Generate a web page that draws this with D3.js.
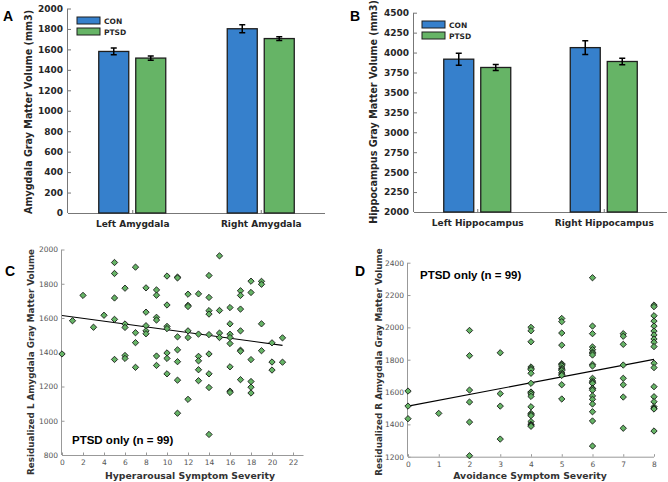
<!DOCTYPE html>
<html><head><meta charset="utf-8">
<script src="https://cdn.jsdelivr.net/npm/d3@7/dist/d3.min.js"></script>
<style>body{margin:0;background:#fff}svg{display:block}</style>
</head><body>
<svg id="c" width="668" height="482"></svg>
<script>
// ---------- DATA ----------
const groups = ["CON", "PTSD"];
const catsA = ["Left Amygdala", "Right Amygdala"];
const conA = [1580, 1802];
const conAErr = [33, 40];
const ptsdA = [1515, 1706];
const ptsdAErr = [20, 18];
const ticksA = [0, 200, 400, 600, 800, 1000, 1200, 1400, 1600, 1800, 2000];

const catsB = ["Left Hippocampus", "Right Hippocampus"];
const conB = [3917, 4062];
const conBErr = [75, 85];
const ptsdB = [3813, 3888];
const ptsdBErr = [38, 40];
const ticksB = [2000, 2250, 2500, 2750, 3000, 3250, 3500, 3750, 4000, 4250, 4500];

const hyperX = [0,1,2,3,4,
 5,5,5,5,5, 6,6,6,6,6, 7,7,7,7, 8,8,8,8,8, 9,9,9,9,9,9,
 10,10,10,10,10,10,10, 11,11,11,11,11,11,11, 12,12,12,12,12,12,
 13,13,13,13,13,13, 14,14,14,14,14,14,14,14,14, 15,15,15,15,
 16,16,16,16,16,16,16,16, 17,17,17,17,17,17,17, 18,18,18,18,18,18,
 19,19,19,19, 20,20,20, 21,21];
const leftAmyg = [1390,1584,1732,1546,1616,
 1924,1860,1717,1592,1358, 1774,1565,1545,1381,1364, 1897,1514,1456,1312,
 1776,1634,1555,1525,1508, 1764,1733,1604,1588,1378,1323,
 1845,1676,1551,1538,1396,1364,1274, 1839,1834,1490,1414,1345,1237,1044,
 1739,1674,1667,1525,1486,1125, 1741,1506,1376,1350,1298,1234,
 1848,1720,1643,1623,1503,1390,1274,1194,920, 1963,1644,1512,1486,
 1661,1566,1505,1486,1451,1315,1173,1165, 1759,1732,1652,1525,1412,1406,1240,
 1815,1749,1357,1229,1196,1162, 1814,1797,1566,1409, 1455,1343,1296, 1484,1342];
const fitC = [[0, 1615], [21, 1440]];
const ticksCx = [0,2,4,6,8,10,12,14,16,18,20,22];
const ticksCy = [800,1000,1200,1400,1600,1800,2000];

const avoidX = [0,0,0, 1, 2,2,2,2,2,2, 3,3,3,3,
 4,4,4,4,4,4,4,4,4,4,4,4,4,4,4,4,4,4,4,4,
 5,5,5,5,5,5,5,5,5,5,5,5,5,5,5,
 6,6,6,6,6,6,6,6,6,6,6,6,6,6,6,6,6,6,6,6,6,6,6,
 7,7,7,7,7,7,7,7,
 8,8,8,8,8,8,8,8,8,8,8,8,8,8,8,8,8,8,8];
const rightAmyg = [1606,1513,1435, 1468, 1981,1825,1612,1538,1414,1206, 1843,1590,1513,1309,
 2000,1979,1911,1755,1745,1738,1716,1654,1600,1598,1588,1573,1509,1468,1460,1454,1417,1400,1395,1388,
 2055,2035,1965,1890,1775,1770,1762,1748,1740,1733,1718,1710,1703,1645,1557,
 2307,2008,1961,1879,1862,1846,1840,1829,1771,1761,1685,1668,1660,1654,1623,1620,1611,1576,1555,1526,1478,1421,1266,
 1961,1945,1895,1767,1685,1645,1569,1376,
 2138,2128,2072,2039,2008,1977,1953,1928,1908,1881,1778,1751,1633,1571,1540,1509,1500,1495,1359];
const fitD = [[0, 1513], [8, 1802]];
const ticksDx = [0,1,2,3,4,5,6,7,8];
const ticksDy = [1200,1400,1600,1800,2000,2200,2400];

// ---------- STYLE ----------
const BLUE = "#3680cc", GREEN = "#66b466";
const AXC = "#777";
const BOLD = "'DejaVu Sans', sans-serif";
const svg = d3.select("#c");

function barPanel(o) {
  const g = svg.append("g");
  const x = d3.scaleLinear().domain([0.5, 2.5]).range([o.x0, o.x1]);
  const y = d3.scaleLinear().domain(o.ydom).range([o.yb, o.yt]);
  const bw = 30, off = 18.5;
  const series = [{v: o.con, e: o.conErr, c: BLUE, d: -off}, {v: o.ptsd, e: o.ptsdErr, c: GREEN, d: off}];
  const ya = d3.axisLeft(y).tickValues(o.ticks).tickSize(-3).tickPadding(5).tickFormat(d3.format("d"));
  const yg = g.append("g").attr("transform", `translate(${o.x0},0)`).call(ya);
  yg.select(".domain").attr("stroke", AXC).attr("d", `M-0.5,${o.yt}V${o.yb}`);
  yg.selectAll(".tick line").attr("stroke", AXC);
  yg.selectAll("text").attr("font-family", BOLD).attr("font-weight", "bold").attr("font-size", 9).attr("fill", "#262626");
  const xa = d3.axisBottom(x).tickValues([1, 2]).tickSize(-3).tickPadding(8).tickFormat((d, i) => o.cats[i]);
  const xg = g.append("g").attr("transform", `translate(0,${o.yb})`).call(xa);
  xg.select(".domain").attr("stroke", AXC).attr("d", `M${o.x0},0.5H${o.x1}`);
  xg.selectAll(".tick line").attr("stroke", AXC);
  xg.selectAll("text").attr("font-family", BOLD).attr("font-weight", "bold").attr("font-size", 9).attr("fill", "#262626");
  series.forEach(s => {
    g.selectAll(null).data(s.v).enter().append("rect")
      .attr("x", (d, i) => x(i + 1) + s.d - bw / 2)
      .attr("y", d => y(d))
      .attr("width", bw).attr("height", d => y(o.ydom[0]) - y(d))
      .attr("fill", s.c).attr("stroke", "#1e1e1e").attr("stroke-width", 1.3);
    s.v.forEach((d, i) => {
      const cx = x(i + 1) + s.d;
      const lo = y(d - s.e[i]), hi = y(d + s.e[i]);
      g.append("path").attr("d", `M${cx},${lo}V${hi}M${cx - 3},${lo}H${cx + 3}M${cx - 3},${hi}H${cx + 3}`)
        .attr("stroke", "#000").attr("stroke-width", 1.5).attr("fill", "none");
    });
  });
  g.append("text").attr("transform", `translate(${o.ylx},${o.yly}) rotate(-90)`)
    .attr("text-anchor", "middle").attr("font-family", BOLD).attr("font-weight", "bold")
    .attr("font-size", 9.6).attr("fill", "#262626").text(o.ylab);
  groups.forEach((n, i) => {
    const ly = o.legY + i * 11;
    g.append("rect").attr("x", o.legX).attr("y", ly).attr("width", 23).attr("height", 7)
      .attr("fill", i ? GREEN : BLUE).attr("stroke", "#1e1e1e").attr("stroke-width", 1);
    g.append("text").attr("x", o.legX + 27).attr("y", ly + 7).attr("font-family", BOLD)
      .attr("font-weight", "bold").attr("font-size", 7.5).attr("fill", "#262626").text(n);
  });
  g.append("text").attr("x", o.lx).attr("y", o.ly).attr("font-family", "'Liberation Sans', Arial, sans-serif")
    .attr("font-weight", "bold").attr("font-size", 14).attr("fill", "#000").text(o.letter);
}

barPanel({x0: 68, x1: 325, yt: 8.5, yb: 213, ydom: [0, 2000], ticks: ticksA, cats: catsA,
  con: conA, conErr: conAErr, ptsd: ptsdA, ptsdErr: ptsdAErr,
  ylab: "Amygdala Gray Matter Volume (mm3)", ylx: 32, yly: 112, legX: 77, legY: 17, letter: "A", lx: 3, ly: 21});
barPanel({x0: 414, x1: 667, yt: 12.7, yb: 212, ydom: [2000, 4500], ticks: ticksB, cats: catsB,
  con: conB, conErr: conBErr, ptsd: ptsdB, ptsdErr: ptsdBErr,
  ylab: "Hippocampus Gray Matter Volume (mm3)", ylx: 377, yly: 112, legX: 422, legY: 21, letter: "B", lx: 350, ly: 21});

function scatterPanel(o) {
  const g = svg.append("g");
  const x = d3.scaleLinear().domain(o.xdom).range([o.x0, o.x1]);
  const y = d3.scaleLinear().domain(o.ydom).range([o.yb, o.yt]);
  const ya = d3.axisLeft(y).tickValues(o.yticks).tickSize(-2.5).tickPadding(4).tickFormat(d3.format("d"));
  const yg = g.append("g").attr("transform", `translate(${o.x0},0)`).call(ya);
  yg.select(".domain").attr("stroke", "#999").attr("d", `M-0.5,${o.yt}V${o.yb}`);
  yg.selectAll(".tick line").attr("stroke", "#999");
  yg.selectAll("text").attr("font-family", "'DejaVu Sans', sans-serif").attr("font-size", 7.5).attr("fill", "#555");
  const xa = d3.axisBottom(x).tickValues(o.xticks).tickSize(-2.5).tickPadding(5).tickFormat(d3.format("d"));
  const xg = g.append("g").attr("transform", `translate(0,${o.yb})`).call(xa);
  xg.select(".domain").attr("stroke", "#999").attr("d", `M${o.x0},0.5H${o.x1}`);
  xg.selectAll(".tick line").attr("stroke", "#999");
  xg.selectAll("text").attr("font-family", "'DejaVu Sans', sans-serif").attr("font-size", 7.5).attr("fill", "#555");
  g.append("path").attr("d", d3.line().x(d => x(d[0])).y(d => y(d[1]))(o.fit))
    .attr("stroke", "#000").attr("stroke-width", 1.1).attr("fill", "none");
  const sym = d3.symbol().type(d3.symbolSquare).size(20);
  g.selectAll(null).data(o.xs).enter().append("path")
    .attr("d", sym)
    .attr("transform", (d, i) => `translate(${x(d)},${y(o.ys[i])}) rotate(45)`)
    .attr("fill", GREEN).attr("stroke", "#111").attr("stroke-width", 0.8).attr("stroke-linejoin", "round");
  g.append("text").attr("x", o.nx).attr("y", o.ny).attr("font-family", "'Liberation Sans', Arial, sans-serif")
    .attr("font-weight", "bold").attr("font-size", 11.5).attr("fill", "#000").text("PTSD only (n = 99)");
  g.append("text").attr("x", o.xlx).attr("y", 479).attr("text-anchor", "middle")
    .attr("font-family", BOLD).attr("font-weight", "bold").attr("font-size", 9.3).attr("fill", "#333").text(o.xlab);
  g.append("text").attr("transform", `translate(${o.ylx},${o.yly}) rotate(-90)`)
    .attr("text-anchor", "middle").attr("font-family", BOLD).attr("font-weight", "bold")
    .attr("font-size", 8.8).attr("fill", "#333").text(o.ylab);
  g.append("text").attr("x", o.lx).attr("y", o.ly).attr("font-family", "'Liberation Sans', Arial, sans-serif")
    .attr("font-weight", "bold").attr("font-size", 14).attr("fill", "#000").text(o.letter);
}

scatterPanel({x0: 62, x1: 303.5, xdom: [0, 23], yt: 249.5, yb: 455, ydom: [800, 2000],
  xticks: ticksCx, yticks: ticksCy, xs: hyperX, ys: leftAmyg, fit: fitC,
  nx: 72, ny: 444, xlab: "Hyperarousal Symptom Severity", xlx: 190,
  ylab: "Residualized L Amygdala Gray Matter Volume", ylx: 34, yly: 362, letter: "C", lx: 5, ly: 276});
scatterPanel({x0: 408, x1: 654, xdom: [0, 8], yt: 262.7, yb: 456.7, ydom: [1200, 2400],
  xticks: ticksDx, yticks: ticksDy, xs: avoidX, ys: rightAmyg, fit: fitD,
  nx: 420, ny: 279, xlab: "Avoidance Symptom Severity", xlx: 530,
  ylab: "Residualized R Amygdala Gray Matter Volume", ylx: 382, yly: 362, letter: "D", lx: 355, ly: 276});
</script>
</body></html>
